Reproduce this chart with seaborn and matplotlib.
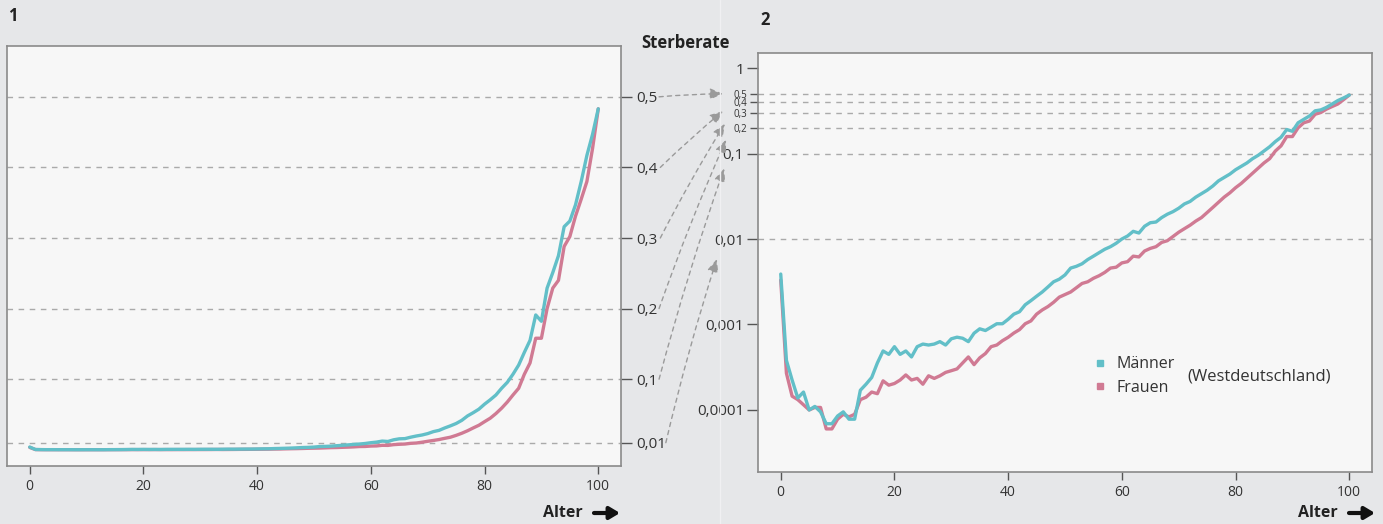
import pandas as pd
import matplotlib
matplotlib.use("Agg")
import matplotlib.pyplot as plt
import matplotlib.transforms as mtransforms
from matplotlib.lines import Line2D
import seaborn as sns

# Sterberaten (Westdeutschland), Alter 0..100
ages = list(range(0, 101))
maenner = [0.00389, 0.00038, 0.000224, 0.000138, 0.000162, 0.0001, 0.00011, 0.000095, 0.000069, 0.000069,
           0.000085, 0.000095, 0.000078, 0.000078, 0.00017, 0.0002, 0.00024, 0.000355, 0.00049, 0.000447,
           0.00055, 0.000447, 0.00049, 0.000417, 0.00055, 0.00059, 0.000575, 0.00059, 0.00063, 0.000575,
           0.00068, 0.00071, 0.00069, 0.00063, 0.00079, 0.00089, 0.00085, 0.00093, 0.00102, 0.00102,
           0.00115, 0.00132, 0.00141, 0.0017, 0.0019, 0.00214, 0.0024, 0.00275, 0.00316, 0.00339,
           0.0038, 0.00457, 0.00479, 0.00513, 0.00575, 0.0063, 0.00692, 0.00759, 0.00813, 0.00891,
           0.0100, 0.01084, 0.0123, 0.01175, 0.0141, 0.0155, 0.0158, 0.0178, 0.0195, 0.0209,
           0.0229, 0.0257, 0.0275, 0.0309, 0.0339, 0.0372, 0.0417, 0.0479, 0.0525, 0.0575,
           0.0646, 0.0708, 0.0776, 0.0871, 0.0955, 0.107, 0.120, 0.138, 0.155, 0.191,
           0.182, 0.229, 0.251, 0.275, 0.316, 0.324, 0.347, 0.380, 0.417, 0.447, 0.483]
frauen = [0.00331, 0.000269, 0.000145, 0.000132, 0.000115, 0.0001, 0.000107, 0.000107, 0.00006, 0.00006,
          0.000078, 0.000089, 0.000083, 0.000089, 0.000132, 0.000141, 0.000162, 0.000155, 0.000219, 0.000195,
          0.000204, 0.000224, 0.000257, 0.000224, 0.000234, 0.0002, 0.000251, 0.000234, 0.000251, 0.000275,
          0.000288, 0.000302, 0.000355, 0.000417, 0.000339, 0.000407, 0.000457, 0.00055, 0.000575, 0.000646,
          0.000708, 0.000794, 0.000871, 0.00102, 0.0011, 0.00132, 0.00148, 0.00162, 0.00182, 0.00209,
          0.00224, 0.0024, 0.00269, 0.00302, 0.00316, 0.00347, 0.00372, 0.00407, 0.00457, 0.00468,
          0.00525, 0.00543, 0.0063, 0.00617, 0.00724, 0.00776, 0.00813, 0.00912, 0.00955, 0.0107,
          0.012, 0.0132, 0.0145, 0.0162, 0.0178, 0.0204, 0.0234, 0.0269, 0.0309, 0.0347,
          0.0398, 0.0447, 0.0513, 0.0589, 0.0676, 0.0776, 0.0871, 0.107, 0.123, 0.158,
          0.158, 0.2, 0.229, 0.24, 0.288, 0.302, 0.331, 0.355, 0.38, 0.427, 0.483]

groups = ["Männer", "Frauen"]
x_ticks = [0, 20, 40, 60, 80, 100]
lin_ticks = [0.01, 0.1, 0.2, 0.3, 0.4, 0.5]
log_major = [1, 0.1, 0.01, 0.001, 0.0001]
log_minor = [0.5, 0.4, 0.3, 0.2]
log_grid = [0.5, 0.4, 0.3, 0.2, 0.1, 0.01]

colors = {"Männer": "#62bfc8", "Frauen": "#d07a93"}


def de(v):
    return str(v).replace(".", ",")


df = pd.DataFrame({
    "Alter": ages * 2,
    "Sterberate": maenner + frauen,
    "Geschlecht": ["Männer"] * len(ages) + ["Frauen"] * len(ages),
})

sns.set_theme(style="white")
plt.rcParams["font.family"] = ["Open Sans", "DejaVu Sans"]

W, H = 1383, 524
fig = plt.figure(figsize=(W / 100, H / 100), dpi=100, facecolor="#e6e7e9")
ax1 = fig.add_axes([7 / W, (H - 466) / H, 614 / W, 420 / H])
ax2 = fig.add_axes([758 / W, (H - 472) / H, 614 / W, 419 / H])

dash = (0, (4, 4))
text_c = "#333333"
spine_c = "#8a8a8a"

for ax in (ax1, ax2):
    ax.set_facecolor("#f7f7f7")
    sns.lineplot(data=df, x="Alter", y="Sterberate", hue="Geschlecht",
                 hue_order=["Frauen", "Männer"], palette=colors, ax=ax,
                 legend=False, lw=2.4)
    ax.set_xlim(-4, 104)
    ax.set_xticks(x_ticks)
    ax.set_xlabel("")
    ax.set_ylabel("")
    for s in ax.spines.values():
        s.set_color(spine_c)
        s.set_linewidth(1.2)
    ax.tick_params(axis="x", direction="out", length=6, width=1, color="#555",
                   labelsize=10, labelcolor=text_c, pad=3, bottom=True)

# Panel 1: linear
ax1.set_ylim(-0.023, 0.572)
ax1.yaxis.tick_right()
ax1.set_yticks(lin_ticks, [de(v) for v in lin_ticks])
ax1.tick_params(axis="y", direction="out", length=8, width=1, color="#555",
                labelsize=11, labelcolor=text_c, pad=3, right=True, left=False)
for v in lin_ticks:
    ax1.axhline(v, color="#aaaaaa", lw=1, ls=dash, zorder=0)

# Panel 2: log
ax2.set_yscale("log")
ax2.set_ylim(1.88e-5, 1.5)
ax2.set_yticks(log_major, [de(v) for v in log_major])
ax2.set_yticks(log_minor, [de(v) for v in log_minor], minor=True)
ax2.tick_params(axis="y", which="major", direction="out", length=8, width=1, color="#555",
                labelsize=11, labelcolor=text_c, pad=2, left=True)
ax2.tick_params(axis="y", which="minor", direction="out", length=6, width=1, color="#555",
                labelsize=7, labelcolor=text_c, pad=2, left=True)
for v in log_grid:
    ax2.axhline(v, color="#aaaaaa", lw=1, ls=dash, zorder=0)

handles = [Line2D([], [], marker="s", ls="", color=colors[g], markersize=5) for g in groups]
ax2.legend(handles, groups, loc="center left", bbox_to_anchor=(0.547, 0.229),
           frameon=False, fontsize=11.5, handletextpad=0.6, labelspacing=0.45,
           handlelength=0.8, borderpad=0, borderaxespad=0, labelcolor=text_c)
ax2.text(0.699, 0.229, "(Westdeutschland)", transform=ax2.transAxes,
         va="center", ha="left", fontsize=12, color=text_c)

# connecting arrows between the two y scales
arrow_x0 = [1.062, 1.064, 1.064, 1.062, 1.062, 1.073]
arrow_x1 = [-0.057, -0.057, -0.054, -0.052, -0.055, -0.067]
arrow_dy = [0, 9, 11, 12, 15, 20]
arrow_vals = [0.5, 0.4, 0.3, 0.2, 0.1, 0.01]
for v, x0, x1, dy in zip(arrow_vals, arrow_x0, arrow_x1, arrow_dy):
    end_tr = mtransforms.offset_copy(ax2.get_yaxis_transform(), fig=fig, x=0, y=-dy, units="dots")
    ax2.annotate("", xy=(x1, v), xycoords=end_tr,
                 xytext=(x0, v), textcoords=ax1.get_yaxis_transform(),
                 arrowprops=dict(arrowstyle="-|>,head_length=0.65,head_width=0.28",
                                 color="#9a9a9a", lw=1, ls=(0, (3, 3)),
                                 shrinkA=0, shrinkB=0,
                                 connectionstyle="arc3,rad=-0.02"),
                 annotation_clip=False)

# faint separator
fig.add_artist(Line2D([720 / W, 720 / W], [0, 1], transform=fig.transFigure,
                      color="#f0f0f2", lw=1))

# titles and labels
fig.text(13 / W, 1 - 16 / H, "1", ha="center", va="center", fontsize=12, weight="bold", color="#222")
fig.text(765 / W, 1 - 20 / H, "2", ha="center", va="center", fontsize=12, weight="bold", color="#222")
fig.text(686 / W, 1 - 43 / H, "Sterberate", ha="center", va="center", fontsize=12,
         weight="bold", color="#222")

for right_px in (620, 1375):
    fig.text((right_px - 37) / W, 1 - 513 / H, "Alter", ha="right", va="center",
             fontsize=11.5, weight="bold", color="#222")
    ax1.annotate("", xy=(right_px / W, 1 - 513 / H), xycoords="figure fraction",
                 xytext=((right_px - 26) / W, 1 - 513 / H), textcoords="figure fraction",
                 arrowprops=dict(arrowstyle="-|>,head_length=0.5,head_width=0.3",
                                 color="#111", lw=3, shrinkA=0, shrinkB=0),
                 annotation_clip=False)

fig.savefig("out.png", dpi=100, facecolor=fig.get_facecolor())
